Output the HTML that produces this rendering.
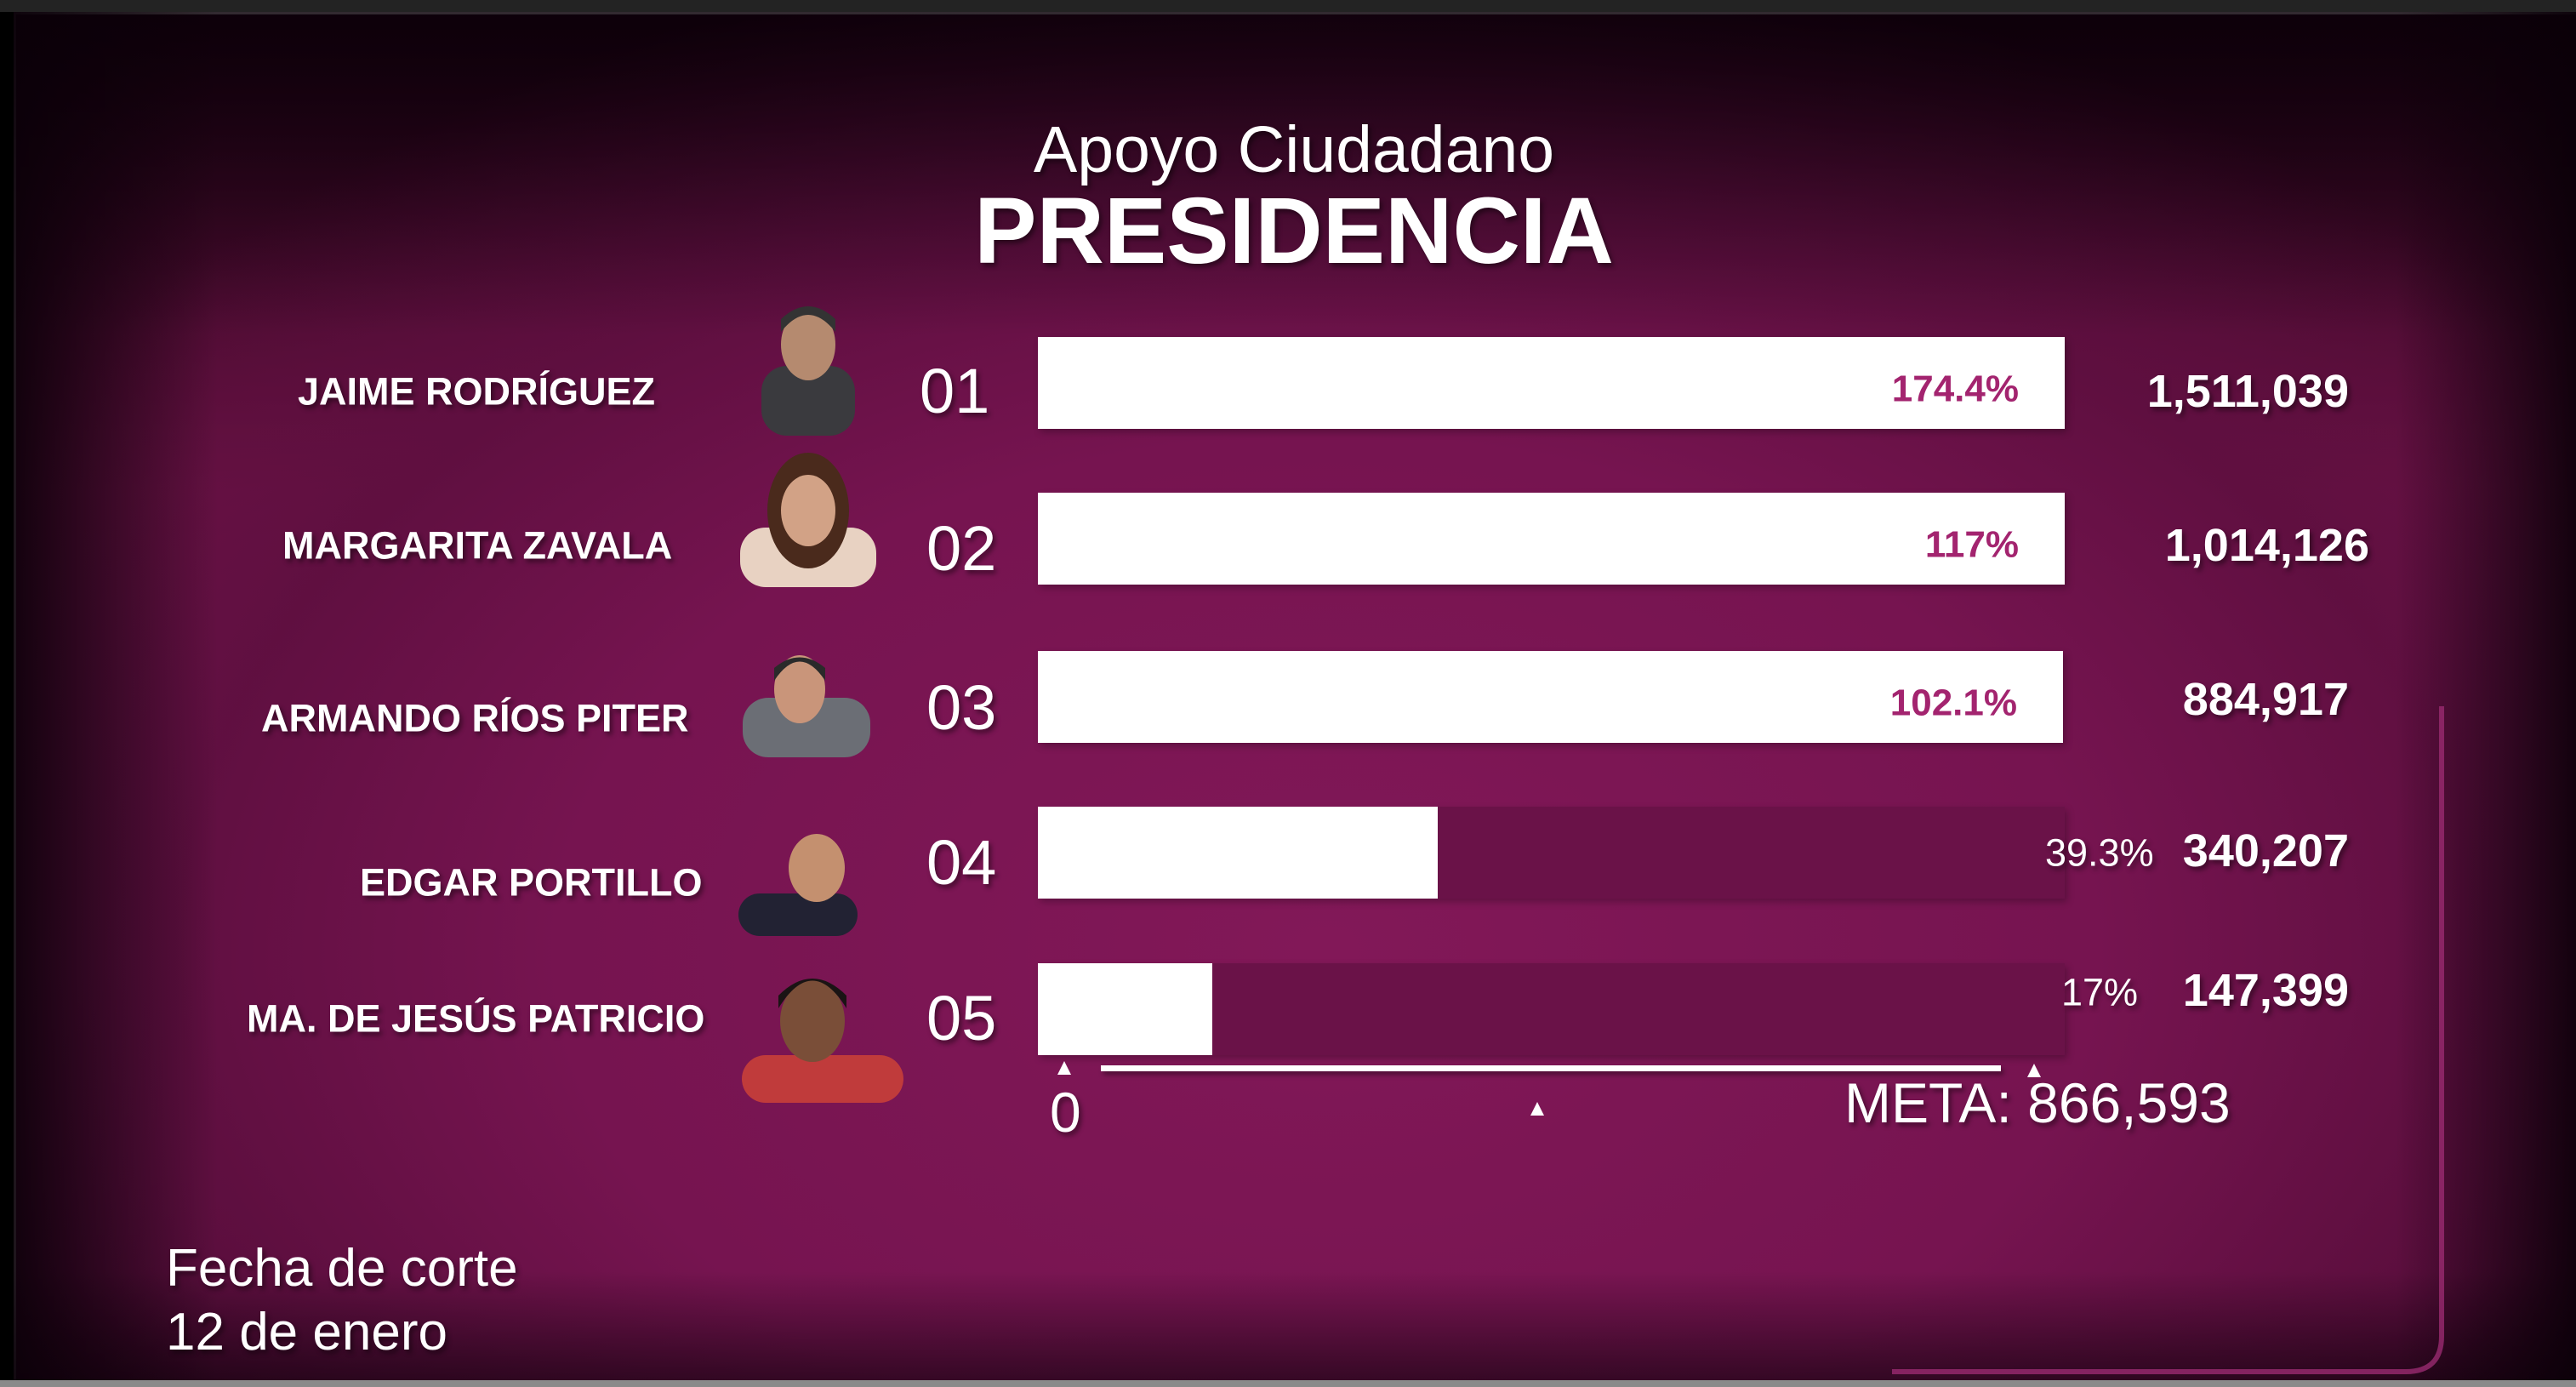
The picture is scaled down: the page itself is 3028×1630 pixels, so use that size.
<!DOCTYPE html>
<html><head><meta charset="utf-8"><style>
html,body{margin:0;padding:0;}
body{width:3028px;height:1630px;position:relative;overflow:hidden;background:#000;font-family:"Liberation Sans",sans-serif;}
#top{position:absolute;left:0;top:0;width:3028px;height:14px;background:#232323;}
#bot{position:absolute;left:0;top:1622px;width:3028px;height:8px;background:#8a8a8a;}
#frame{position:absolute;left:16px;top:14px;width:3012px;height:1608px;border-left:3px solid #cfcfcf;border-top:3px solid #cfcfcf;box-sizing:border-box;
background:
 radial-gradient(ellipse 1800px 1200px at 1540px 1100px, rgba(130,24,88,1) 0%, rgba(118,20,80,1) 50%, rgba(95,15,64,0.95) 75%, rgba(20,0,12,0.0) 100%),
 linear-gradient(#1a0010,#6a1244 35%,#7a1655 70%,#3a0626 100%);}
#vign{position:absolute;left:16px;top:14px;width:3012px;height:1608px;
background:linear-gradient(90deg,rgba(10,0,8,0.9) 0px,rgba(10,0,8,0) 240px,rgba(10,0,8,0) 2800px,rgba(10,0,8,0.9) 3012px),
linear-gradient(180deg,rgba(10,0,8,0.8) 0px,rgba(10,0,8,0) 380px,rgba(10,0,8,0) 1480px,rgba(10,0,8,0.6) 1608px);}
.t{position:absolute;color:#fff;white-space:nowrap;line-height:1;text-shadow:3px 4px 6px rgba(0,0,0,0.45);}
.name{font-size:45px;font-weight:bold;transform:translateY(-50%);}
.num{font-size:74px;transform:translateY(-50%);}
.bar{position:absolute;left:1220px;width:1207px;height:108px;background:#6a1248;box-shadow:3px 4px 8px rgba(0,0,0,0.25);}
.fill{position:absolute;left:0;top:0;height:100%;background:#fff;}
.pin{position:absolute;right:54px;top:50%;transform:translateY(-35%);color:#a3246f;font-weight:bold;font-size:44px;}
.cnt{font-weight:bold;font-size:54px;transform:translateY(-50%);}
.pct{font-size:45px;transform:translateY(-50%);}
.tri{position:absolute;width:0;height:0;border-left:8px solid transparent;border-right:8px solid transparent;border-bottom:16px solid #fff;}
</style></head><body>
<div id="top"></div>
<div id="frame"></div>
<div id="vign"></div>
<div id="bot"></div>
<svg style="position:absolute;left:0;top:0" width="3028" height="1630">
<path d="M2870 830 L2870 1570 Q2870 1612 2828 1612 L2224 1612" fill="none" stroke="#9a2a70" stroke-width="6" opacity="0.8"/>
</svg>

<div class="t" style="left:1521px;top:138px;font-size:77px;transform:translateX(-50%);">Apoyo Ciudadano</div>
<div class="t" style="left:1521px;top:217px;font-size:110px;font-weight:900;transform:translateX(-50%);">PRESIDENCIA</div>

<div class="t name" style="left:350px;top:460px;">JAIME RODRÍGUEZ</div>
<div class="t name" style="left:332px;top:641px;">MARGARITA ZAVALA</div>
<div class="t name" style="left:307px;top:844px;">ARMANDO RÍOS PITER</div>
<div class="t name" style="left:423px;top:1037px;">EDGAR PORTILLO</div>
<div class="t name" style="left:290px;top:1197px;">MA. DE JESÚS PATRICIO</div>

<svg style="position:absolute;left:0;top:0" width="3028" height="1630">
<g>
<rect x="895" y="430" width="110" height="82" rx="30" fill="#3a3a3e"/><ellipse cx="950" cy="405" rx="32" ry="42" fill="#b58a6f"/><path d="M918 390 Q950 350 982 390 L982 375 Q950 345 918 375Z" fill="#333"/>
<rect x="870" y="620" width="160" height="70" rx="30" fill="#e8d2c2"/><ellipse cx="950" cy="600" rx="48" ry="68" fill="#4a2a1c"/><ellipse cx="950" cy="600" rx="32" ry="42" fill="#d2a286"/>
<rect x="873" y="820" width="150" height="70" rx="30" fill="#6b6e75"/><ellipse cx="940" cy="810" rx="30" ry="40" fill="#c9957a"/><path d="M910 800 Q940 755 970 800 L970 785 Q940 760 910 785Z" fill="#2a2a2a"/>
<rect x="868" y="1050" width="140" height="50" rx="25" fill="#223"/><ellipse cx="960" cy="1020" rx="33" ry="40" fill="#c4906f"/>
<rect x="872" y="1240" width="190" height="56" rx="28" fill="#c03b3b"/><ellipse cx="955" cy="1200" rx="38" ry="48" fill="#7a4e38"/><path d="M915 1185 Q955 1120 995 1185 L995 1170 Q955 1130 915 1170Z" fill="#1a1414"/>
</g>
</svg>

<div class="t num" style="left:1081px;top:460px;">01</div>
<div class="t num" style="left:1089px;top:645px;">02</div>
<div class="t num" style="left:1089px;top:832px;">03</div>
<div class="t num" style="left:1089px;top:1014px;">04</div>
<div class="t num" style="left:1089px;top:1197px;">05</div>

<div class="bar" style="top:396px;"><div class="fill" style="width:100%"></div><div class="pin">174.4%</div></div>
<div class="bar" style="top:579px;"><div class="fill" style="width:100%"></div><div class="pin">117%</div></div>
<div class="bar" style="top:765px;width:1205px;"><div class="fill" style="width:100%"></div><div class="pin">102.1%</div></div>
<div class="bar" style="top:948px;"><div class="fill" style="width:470px"></div></div>
<div class="bar" style="top:1132px;"><div class="fill" style="width:205px"></div></div>

<div class="t pct" style="left:2404px;top:1002px;">39.3%</div>
<div class="t pct" style="left:2423px;top:1166px;">17%</div>

<div class="t cnt" style="right:267px;top:460px;">1,511,039</div>
<div class="t cnt" style="right:243px;top:641px;">1,014,126</div>
<div class="t cnt" style="right:267px;top:822px;">884,917</div>
<div class="t cnt" style="right:267px;top:1000px;">340,207</div>
<div class="t cnt" style="right:267px;top:1164px;">147,399</div>

<div style="position:absolute;left:1294px;top:1252px;width:1058px;height:7px;background:#fff;box-shadow:3px 4px 6px rgba(0,0,0,0.4);"></div>
<div class="tri" style="left:1243px;top:1247px;"></div>
<div class="tri" style="left:1799px;top:1295px;"></div>
<div class="tri" style="left:2383px;top:1250px;"></div>
<div class="t" style="left:1234px;top:1307px;font-size:66px;transform:translateY(-50%);">0</div>
<div class="t" style="left:2168px;top:1296px;font-size:66px;transform:translateY(-50%);">META: 866,593</div>

<div class="t" style="left:195px;top:1491px;font-size:62px;transform:translateY(-50%);">Fecha de corte</div>
<div class="t" style="left:195px;top:1566px;font-size:62px;transform:translateY(-50%);">12 de enero</div>
</body></html>
